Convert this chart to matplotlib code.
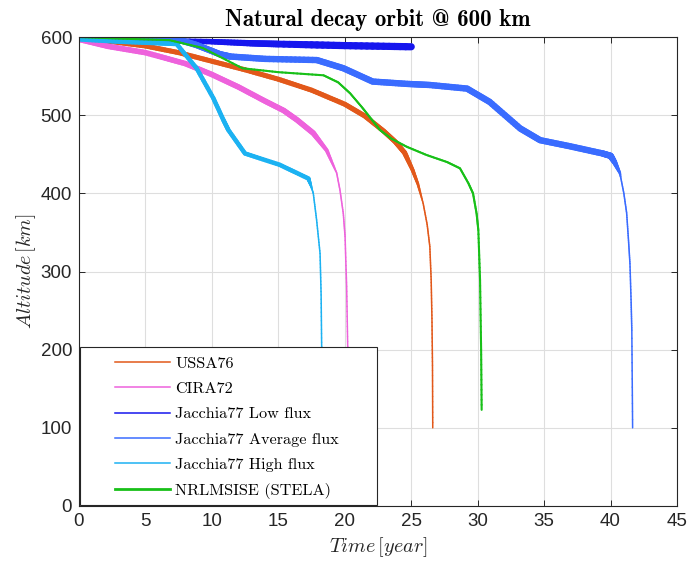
import numpy as np
import matplotlib
matplotlib.use("Agg")
import matplotlib.pyplot as plt
from matplotlib.collections import LineCollection
from matplotlib.lines import Line2D
from matplotlib.patches import Rectangle

plt.rcParams["mathtext.fontset"] = "cm"

# ---- Decay histories: time [year] vs altitude [km] ----
ussa76_t = [0, 2.5, 5, 7.5, 10, 12.5, 15, 17.5, 20, 21.5, 22.9, 23.8, 24.5,
            25.1, 25.5, 25.9, 26.2, 26.4, 26.5, 26.56, 26.6, 26.62]
ussa76_alt = [598, 594, 588.5, 580, 569, 558, 546, 532, 514, 499, 480, 466,
              452, 430, 412, 387, 360, 332, 290, 240, 180, 100]

cira72_t = [0, 2.2, 5, 8, 10, 12, 14, 15.4, 16.4, 17.63, 18.64, 19.39, 19.64,
            19.89, 20.02, 20.14, 20.22, 20.26]
cira72_alt = [597, 588, 580, 566, 552, 536, 518, 506, 494, 477, 455, 426, 404,
              374, 345, 281, 204, 100]

j77_low_t = [0, 5, 10, 12.9, 15, 20, 25]
j77_low_alt = [599, 596, 594, 592, 591, 589, 587.5]

j77_avg_t = [0, 4, 7.6, 8.8, 9.86, 10.6, 11.4, 14, 17.9, 19.9, 22.1, 24.7,
             26.4, 29.2, 30.9, 33.2, 34.7, 37, 39.4, 40.0, 40.3, 40.7, 41.0,
             41.21, 41.35, 41.46, 41.55, 41.6, 41.66]
j77_avg_alt = [599, 598, 596, 590, 583, 578, 575, 572, 570.5, 560, 543, 540,
               538.6, 534, 517, 483, 468, 460, 451, 448, 440, 426, 400,
               375, 340, 310, 260, 225, 100]

j77_high_t = [0, 3, 6, 7.35, 8.85, 10.1, 10.86, 11.24, 12.49, 15.1, 17.26,
              17.45, 17.63, 17.88, 18.14, 18.22, 18.26, 18.28]
j77_high_alt = [597, 594, 592, 591, 560, 522, 494, 481, 451, 436.5, 419,
                410, 400, 366, 323, 270, 204, 100]

nrlmsise_t = [0, 3, 6.8, 9.3, 12.3, 15, 18.4, 19.5, 20.4, 21.3, 22.0, 22.65,
              23.5, 24.66, 26.16, 27.7, 28.67, 29.3, 29.65, 29.92, 30.05,
              30.18, 30.26, 30.3]
nrlmsise_alt = [600, 598, 596, 586, 560, 555, 551, 542, 528, 510, 495, 481,
                470, 459.6, 449, 440, 432, 413, 400, 374, 353, 289, 200, 123]

labels = ["USSA76", "CIRA72", "Jacchia77 Low flux", "Jacchia77 Average flux",
          "Jacchia77 High flux", "NRLMSISE (STELA)"]

x_ticks = [0, 5, 10, 15, 20, 25, 30, 35, 40, 45]
y_ticks = [0, 100, 200, 300, 400, 500, 600]

# colour, thin width, band width, altitude range over which the band width
# changes (from a_lo where it is thin to a_hi where it is full)
styles = [
    dict(color="#e2581a", thin=1.1, thick=3.6, a_lo=390, a_hi=450),
    dict(color="#ee62dc", thin=1.1, thick=4.0, a_lo=425, a_hi=478),
    dict(color="#1616ee", thin=2.2, thick=5.2, a_lo=600, a_hi=590),
    dict(color="#3a6cff", thin=1.1, thick=4.6, a_lo=420, a_hi=447),
    dict(color="#1cb2f2", thin=1.1, thick=3.2, a_lo=405, a_hi=420),
    dict(color="#18c018", thin=1.5, thick=1.5, a_lo=-2, a_hi=-1),
]
legend_widths = [1.1, 1.1, 1.1, 1.1, 1.1, 2.0]
series = [(ussa76_t, ussa76_alt), (cira72_t, cira72_alt),
          (j77_low_t, j77_low_alt), (j77_avg_t, j77_avg_alt),
          (j77_high_t, j77_high_alt), (nrlmsise_t, nrlmsise_alt)]

fig = plt.figure(figsize=(6.88, 5.63), dpi=100)
ax = fig.add_axes([79 / 688, 57 / 563, 598 / 688, 469 / 563])


def banded_line(ax, t, alt, st, z):
    """Draw a curve whose width follows the orbit-oscillation band."""
    t = np.asarray(t, float)
    alt = np.asarray(alt, float)
    segs, widths = [], []
    for i in range(len(t) - 1):
        n = 12
        ts = np.linspace(t[i], t[i + 1], n + 1)
        as_ = np.linspace(alt[i], alt[i + 1], n + 1)
        for k in range(n):
            segs.append([(ts[k], as_[k]), (ts[k + 1], as_[k + 1])])
            mid = 0.5 * (as_[k] + as_[k + 1])
            f = np.clip((mid - st["a_lo"]) / (st["a_hi"] - st["a_lo"]), 0, 1)
            widths.append(st["thin"] + (st["thick"] - st["thin"]) * f)
    lc = LineCollection(segs, colors=st["color"], linewidths=widths,
                        capstyle="round", joinstyle="round", zorder=z)
    ax.add_collection(lc)


for i, ((t, a), st) in enumerate(zip(series, styles)):
    banded_line(ax, t, a, st, 2 + i * 0.1)

ax.set_xlim(0, 45)
ax.set_ylim(0, 600)
ax.set_xticks(x_ticks)
ax.set_yticks(y_ticks)
ax.grid(True, color="#dedede", linewidth=0.8)
ax.set_axisbelow(True)
ax.tick_params(direction="in", top=True, right=True, length=4, width=0.7,
               colors="#262626", labelsize=13.5, pad=5)
for lab in ax.get_xticklabels() + ax.get_yticklabels():
    lab.set_fontfamily("Liberation Sans")
for sp in ax.spines.values():
    sp.set_color("#262626")
    sp.set_linewidth(0.8)

ax.set_xlabel(r"$Time\,[year]$", fontsize=14.5, color="#262626", labelpad=4)
ax.set_ylabel(r"$Altitude\,[km]$", fontsize=14.5, color="#262626", labelpad=2)
ax.set_title("Natural decay orbit @ 600 km", fontsize=16.5,
             family=["cmb10", "DejaVu Serif"], pad=8)

# legend box
ax.add_patch(Rectangle((0.0017, 0.002), 0.4966, 0.337, transform=ax.transAxes,
                       facecolor="white", edgecolor="#262626", linewidth=0.8,
                       zorder=4))
handles = [Line2D([], [], color=st["color"], linewidth=w)
           for st, w in zip(styles, legend_widths)]
leg = ax.legend(handles, labels, loc="upper left", bbox_to_anchor=(0.0602, 0.319),
                frameon=False, borderpad=0, borderaxespad=0, handlelength=3.4,
                handletextpad=0.3, labelspacing=0.67,
                prop=dict(family=["cmr10", "DejaVu Serif"], size=11.7))
leg.set_zorder(5)

fig.savefig("out.png", dpi=100)
